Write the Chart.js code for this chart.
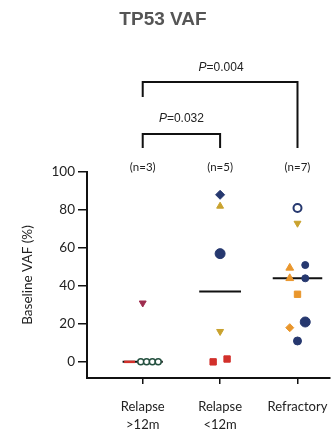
<!DOCTYPE html>
<html>
<head>
<meta charset="utf-8">
<script src="https://cdn.jsdelivr.net/npm/chart.js@4/dist/chart.umd.min.js"></script>
<style>
html,body{margin:0;padding:0;background:#fff;}
#wrap{width:336px;height:437px;position:relative;}
</style>
</head>
<body>
<div id="wrap"><canvas id="c" width="336" height="437"></canvas></div>
<script>
// ---- data ----
const categories = [["Relapse", ">12m"], ["Relapse", "<12m"], ["Refractory"]];
const groupCounts = ["(n=3)", "(n=5)", "(n=7)"];
const yTicks = [0, 20, 40, 60, 80, 100];
const title = "TP53 VAF";
const yTitle = "Baseline VAF (%)";
const pValues = ["0.032", "0.004"];

// individual points: x = category position (with jitter), y = VAF %
const maroonTriDown = [{x: 1.0, y: 31}];
const greenOpenCircles = [{x: 0.975, y: 0}, {x: 1.05, y: 0}, {x: 1.125, y: 0}, {x: 1.2, y: 0}];
const redSegment = [{x: 0.76, y: 0}, {x: 0.9, y: 0}];
const navyDiamonds = [{x: 2.0, y: 88}];
const goldTriUp = [{x: 2.0, y: 82}];
const navyBigCircles = [{x: 2.0, y: 57}, {x: 3.1, y: 21}];
const goldTriDown = [{x: 2.0, y: 16}, {x: 3.0, y: 73}];
const redSquares = [{x: 1.91, y: 0}, {x: 2.09, y: 1.5}];
const navyOpenCircles = [{x: 3.0, y: 81}];
const orangeTriUp = [{x: 2.9, y: 49.5}, {x: 2.9, y: 44}];
const navySmallCircles = [{x: 3.1, y: 51}, {x: 3.1, y: 44}];
const orangeSquares = [{x: 3.0, y: 35.6}];
const orangeDiamonds = [{x: 2.9, y: 18}];
const navyMidCircles = [{x: 3.0, y: 11}];
const medians = [0, 37, 44];
const medianHalfWidth = [0.26, 0.27, 0.32];

const NAVY = "#26386f", GOLD = "#c9a22e", ORANGE = "#e9962c", RED = "#d2302b", MAROON = "#9e2c4e", GREEN = "#24503f";

function pts(data, style, color, r, opts) {
  return Object.assign({type: "scatter", data: data, pointStyle: style, backgroundColor: color,
    borderColor: color, pointRadius: r, pointHoverRadius: r, borderWidth: 1, order: 1}, opts || {});
}
const medianSets = medians.map((m, i) => ({
  type: "line", data: [{x: i + 1 - medianHalfWidth[i], y: m}, {x: i + 1 + medianHalfWidth[i], y: m}],
  borderColor: "#111", borderWidth: 2, pointRadius: 0, showLine: true, order: 2
}));

const annot = {
  id: "annot",
  afterDraw(chart) {
    const ctx = chart.ctx, xs = chart.scales.x;
    ctx.save();
    // title
    ctx.fillStyle = "#555";
    ctx.font = "bold 19px 'Liberation Sans', Arial, sans-serif";
    ctx.textAlign = "center"; ctx.textBaseline = "middle";
    ctx.fillText(title, 163, 20);
    // n labels
    ctx.fillStyle = "#222";
    ctx.font = "11.5px Lato, sans-serif";
    groupCounts.forEach((t, i) => ctx.fillText(t, xs.getPixelForValue(i + 1), 167));
    // brackets
    const x1 = xs.getPixelForValue(1), x2 = xs.getPixelForValue(2), x3 = xs.getPixelForValue(3);
    ctx.strokeStyle = "#111"; ctx.lineWidth = 2; ctx.lineCap = "butt";
    ctx.beginPath();
    ctx.moveTo(x1, 148); ctx.lineTo(x1, 134); ctx.lineTo(x2, 134); ctx.lineTo(x2, 148);
    ctx.moveTo(x1, 97); ctx.lineTo(x1, 82); ctx.lineTo(x3, 82); ctx.lineTo(x3, 148);
    ctx.stroke();
    function pText(val, cx, cy) {
      const f1 = "italic 12px 'Liberation Sans', Arial, sans-serif", f2 = "12px 'Liberation Sans', Arial, sans-serif";
      ctx.font = f1; const w1 = ctx.measureText("P").width;
      ctx.font = f2; const w2 = ctx.measureText("=" + val).width;
      const sx = cx - (w1 + w2) / 2;
      ctx.textAlign = "left";
      ctx.font = f1; ctx.fillText("P", sx, cy);
      ctx.font = f2; ctx.fillText("=" + val, sx + w1, cy);
    }
    ctx.fillStyle = "#222";
    pText(pValues[0], (x1 + x2) / 2, 119);
    pText(pValues[1], (x1 + x3) / 2 + 1, 68);
    ctx.restore();
  }
};

new Chart(document.getElementById("c"), {
  data: {
    datasets: [
      ...medianSets,
      {type: "line", data: redSegment, borderColor: RED, borderWidth: 2.5, pointRadius: 0, showLine: true, order: 1},
      pts(maroonTriDown, "triangle", MAROON, 4, {rotation: 180}),
      pts(greenOpenCircles, "circle", "#fff", 3, {borderColor: GREEN, borderWidth: 1.5}),
      pts(navyDiamonds, "rectRot", NAVY, 4.5),
      pts(goldTriUp, "triangle", GOLD, 4),
      pts(navyBigCircles, "circle", NAVY, 5),
      pts(goldTriDown, "triangle", GOLD, 4, {rotation: 180}),
      pts(redSquares, "rect", RED, 4.5),
      pts(navyOpenCircles, "circle", "#fff", 4, {borderColor: NAVY, borderWidth: 2}),
      pts(orangeTriUp, "triangle", ORANGE, 4.5),
      pts(navySmallCircles, "circle", NAVY, 3.5),
      pts(orangeSquares, "rect", ORANGE, 4.5),
      pts(orangeDiamonds, "rectRot", ORANGE, 4),
      pts(navyMidCircles, "circle", NAVY, 4)
    ]
  },
  options: {
    responsive: false,
    animation: false,
    layout: {padding: {top: 172, right: 4, left: 0, bottom: 0}},
    plugins: {legend: {display: false}, tooltip: {enabled: false}},
    scales: {
      x: {
        type: "linear", min: 0.28, max: 3.42,
        afterBuildTicks: s => { s.ticks = categories.map((c, i) => ({value: i + 1})); },
        afterFit: s => { s.height = 59; s.paddingLeft = 0; s.paddingRight = 0; },
        ticks: {callback: (v) => categories[Math.round(v) - 1], color: "#222",
          font: {family: "Lato, sans-serif", size: 13, lineHeight: 1.35}, padding: 14, maxRotation: 0, autoSkip: false},
        grid: {display: true, drawOnChartArea: false, drawTicks: true, tickLength: 6, color: "#111", lineWidth: 1.5},
        border: {display: true, color: "#111", width: 2}
      },
      y: {
        type: "linear", min: -8.5, max: 100,
        afterBuildTicks: s => { s.ticks = yTicks.map(v => ({value: v})); },
        afterFit: s => { s.width = 87; s.paddingTop = 0; s.paddingBottom = 0; },
        ticks: {color: "#222", font: {family: "Lato, sans-serif", size: 13.5}, padding: 3},
        grid: {display: true, drawOnChartArea: false, drawTicks: true, tickLength: 9, color: "#111", lineWidth: 1.5},
        border: {display: true, color: "#111", width: 2},
        title: {display: true, text: yTitle, color: "#222", font: {family: "Lato, sans-serif", size: 13.5}, padding: {top: 20, bottom: 0}}
      }
    }
  },
  plugins: [annot]
});
</script>
</body>
</html>
